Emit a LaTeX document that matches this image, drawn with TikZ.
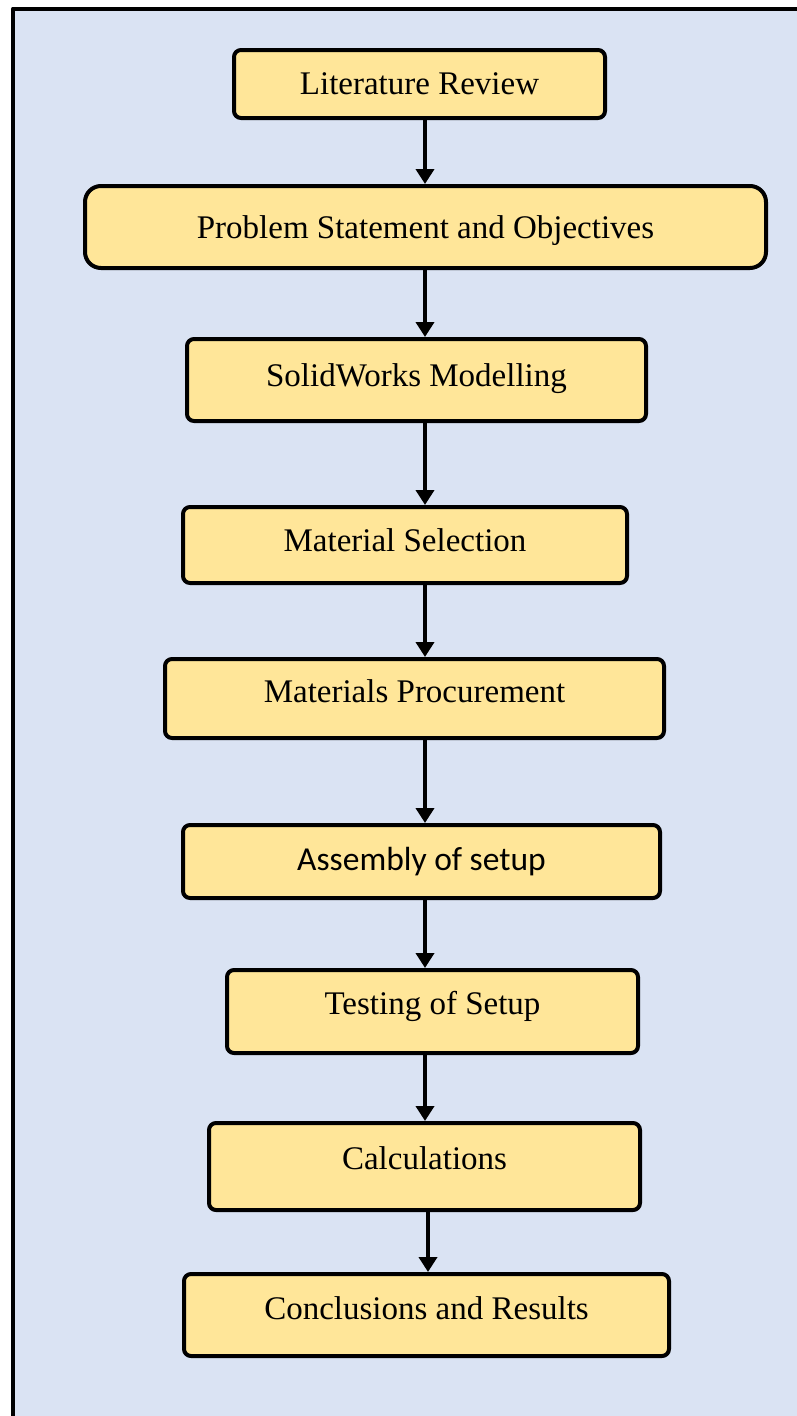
\documentclass[tikz,border=0pt]{standalone}
\usepackage{fontspec}
\setmainfont{Liberation Serif}
\newfontfamily\calibrifont{Carlito}
\usepackage{xcolor}
\usetikzlibrary{positioning,calc,arrows.meta}

\definecolor{paneblue}{HTML}{DAE3F3}
\definecolor{boxyellow}{HTML}{FFE699}

\begin{document}
\begin{tikzpicture}[x=1pt,y=-1pt,>={Triangle[width=18pt,length=15pt]},line join=round,
		stepbox/.style={draw=black,line width=4pt,fill=boxyellow,rounded corners=7pt,inner sep=0pt,
			text height=23pt,font=\fontsize{33}{38}\selectfont},
		flow/.style={->,line width=4.5pt}]
	
	% page + frame
	\useasboundingbox (0,0) rectangle (797,1416);
	\fill[white] (0,0) rectangle (797,1416);
	\fill[paneblue] (13,8.5) rectangle (797,1416);
	\draw[line width=4pt] (13,1416) -- (13,8.5) -- (797,8.5);
	
	% column of arrows
	\coordinate (axis) at (425,0);
	
	% steps
	\node[stepbox,minimum width=371pt,minimum height=68pt,text depth=3pt] (litrev) at (419.5,84) {Literature Review};
	\node[stepbox,minimum width=681pt,minimum height=82pt,rounded corners=16pt,text depth=1pt] (probst) at (425.5,227) {Problem Statement and Objectives};
	\node[stepbox,minimum width=459pt,minimum height=82pt,text depth=10pt] (swmodel) at (416.5,380) {SolidWorks Modelling};
	\node[stepbox,minimum width=444pt,minimum height=76pt,text depth=10pt] (matsel) at (405,545) {Material Selection};
	\node[stepbox,minimum width=499pt,minimum height=79pt,text depth=15pt] (matproc) at (414.5,698.5) {Materials Procurement};
	\node[stepbox,minimum width=477pt,minimum height=73pt,text depth=5pt,font=\calibrifont\fontsize{33.5}{38}\selectfont] (assembly) at (421.5,861.5) {Assembly of setup};
	\node[stepbox,minimum width=411pt,minimum height=83pt,text depth=17pt] (testing) at (432.5,1011.5) {Testing of Setup};
	\node[stepbox,minimum width=431pt,minimum height=87pt,text depth=18pt] (calc) at (424.5,1166.5) {Calculations};
	\node[stepbox,minimum width=485pt,minimum height=82pt,text depth=15pt] (concl) at (426.5,1315) {Conclusions and Results};
	
	% arrows
	\draw[flow] (litrev.south -| axis) -- (probst.north -| axis);
	\draw[flow] (probst.south -| axis) -- (swmodel.north -| axis);
	\draw[flow] (swmodel.south -| axis) -- (matsel.north -| axis);
	\draw[flow] (matsel.south -| axis) -- (matproc.north -| axis);
	\draw[flow] (matproc.south -| axis) -- (assembly.north -| axis);
	\draw[flow] (assembly.south -| axis) -- (testing.north -| axis);
	\draw[flow] (testing.south -| axis) -- (calc.north -| axis);
	\draw[flow] ([xshift=3pt]calc.south -| axis) -- ([xshift=3pt]concl.north -| axis);
\end{tikzpicture}
\end{document}
